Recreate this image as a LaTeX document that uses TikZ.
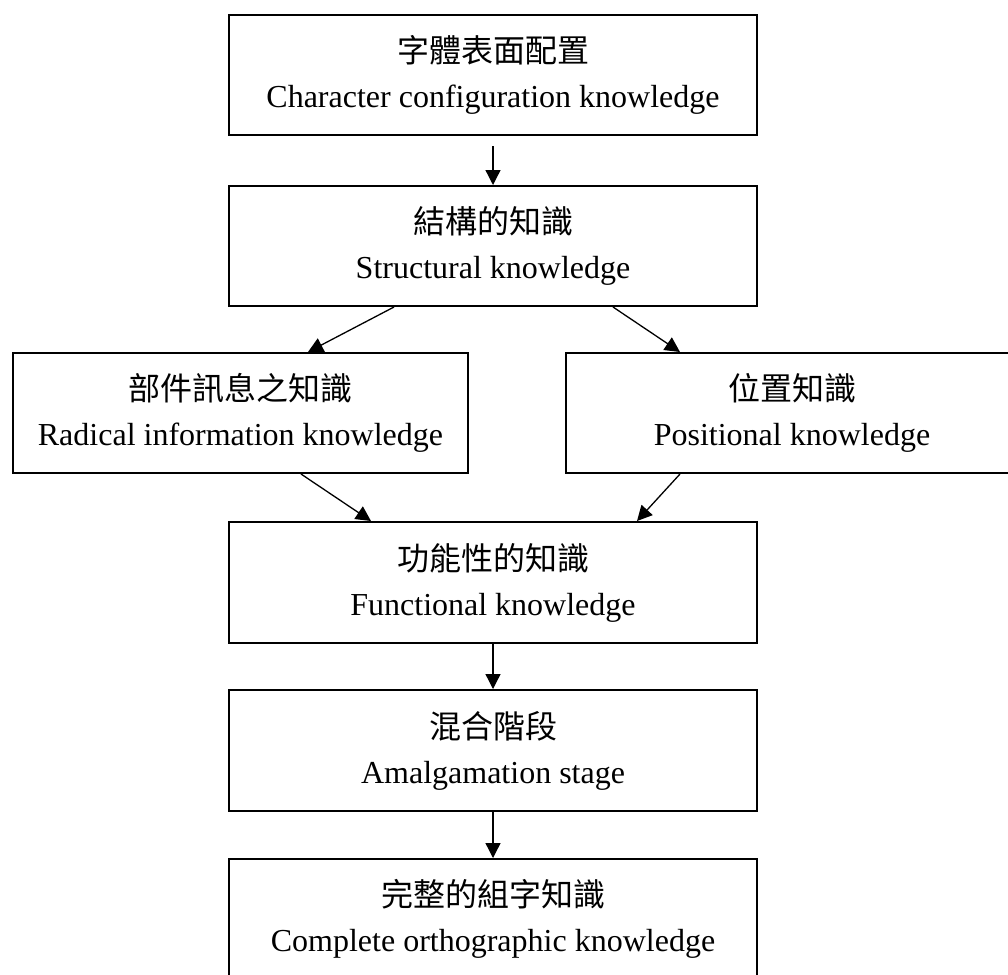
\documentclass[tikz,border=0pt]{standalone}
\usepackage{fontspec}
\setmainfont{Liberation Serif}
\newfontfamily\cjk{Noto Sans CJK TC}
\usetikzlibrary{arrows.meta,calc}
\newcommand{\boxtext}[2]{\rule{0pt}{28pt}{\cjk #1}\\#2\rule[-8pt]{0pt}{8pt}}
\tikzset{
  box/.style={draw, line width=2pt, minimum width=528pt, minimum height=120pt,
    inner sep=0pt, align=center, font=\fontsize{32}{45}\selectfont},
  arr/.style={line width=1.3pt, -{Triangle[length=15pt,width=15pt]}}
}
\begin{document}
\begin{tikzpicture}[x=1pt,y=-1pt]
\useasboundingbox (0,0) rectangle (1008,974);
\node[box] (b1) at (493,75) {\boxtext{字體表面配置}{Character configuration knowledge}};
\node[box] (b2) at (493,246) {\boxtext{結構的知識}{Structural knowledge}};
\node[box, minimum width=455pt] (lb) at (240.5,413) {\boxtext{部件訊息之知識}{Radical information knowledge}};
\node[box, minimum width=452pt] (rb) at (792,413) {\boxtext{位置知識}{Positional knowledge}};
\node[box, minimum height=121pt] (b4) at (493,582.5) {\boxtext{功能性的知識}{Functional knowledge}};
\node[box, minimum height=121pt] (b5) at (493,750.5) {\boxtext{混合階段}{Amalgamation stage}};
\node[box] (b6) at (493,919) {\boxtext{完整的組字知識}{Complete orthographic knowledge}};
\draw[arr, shorten <=10pt] (b1) -- (b2);
\draw[arr] ($(b2.south west)+(166,0)$) -- ($(lb.north west)+(296,0)$);
\draw[arr] ($(b2.south west)+(385,0)$) -- ($(rb.north west)+(115,0)$);
\draw[arr] ($(lb.south west)+(289,0)$) -- ($(b4.north west)+(143,0)$);
\draw[arr] ($(rb.south west)+(115,0)$) -- ($(b4.north west)+(409,0)$);
\draw[arr] (b4) -- (b5);
\draw[arr] (b5) -- (b6);
\end{tikzpicture}
\end{document}
